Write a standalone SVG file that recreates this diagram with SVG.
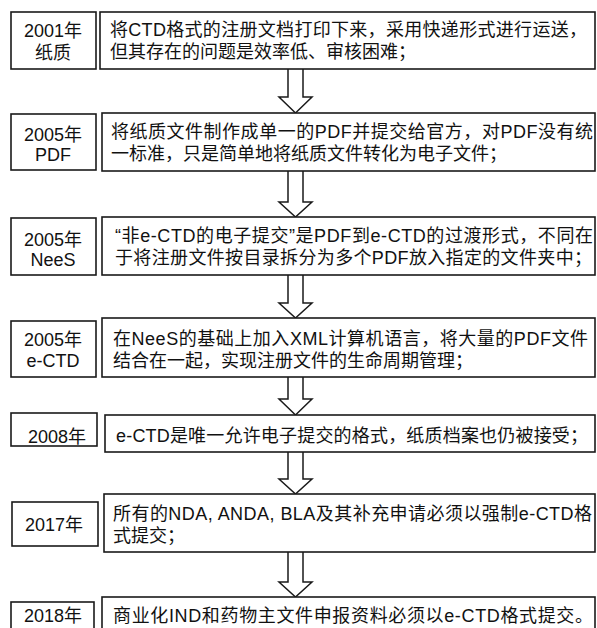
<svg xmlns="http://www.w3.org/2000/svg" width="597" height="628" viewBox="0 0 597 628">
<style>
.bx{fill:#fff;stroke:#1a1a1a;stroke-width:1.6}
.ar{fill:#fff;stroke:#1a1a1a;stroke-width:1.5;stroke-linejoin:miter}
.lb{font-family:"Liberation Sans","Noto Sans CJK SC",sans-serif;font-size:18px;fill:#111;text-anchor:middle}
.tx{font-family:"Liberation Sans","Noto Sans CJK SC",sans-serif;font-size:18px;fill:#111}
</style>
<rect width="597" height="628" fill="#fff"/>
<g id="connectors">
<path class="ar" d="M288,69 V97 H279 L295.5,113 L312,97 H303 V69"/>
<path class="ar" d="M288,171 V202 H279 L295.5,217 L312,202 H303 V171"/>
<path class="ar" d="M288,275 V303 H279 L295.5,318 L312,303 H303 V275"/>
<path class="ar" d="M288,377 V399 H279 L295.5,415 L312,399 H303 V377"/>
<path class="ar" d="M288,452 V479 H279 L295.5,494 L312,479 H303 V452"/>
<path class="ar" d="M288,552 V582 H279 L295.5,597 L312,582 H303 V552"/>
</g>
<g id="n2001">
<rect class="bx" x="11" y="12" width="85" height="57"/>
<text class="lb" x="53" y="37">2001年</text>
<text class="lb" x="53" y="59">纸质</text>
<rect class="bx" x="100" y="12" width="495" height="57"/>
<text class="tx" x="110" y="36" textLength="477" lengthAdjust="spacing">将CTD格式的注册文档打印下来，采用快递形式进行运送，</text>
<text class="tx" x="110" y="58">但其存在的问题是效率低、审核困难；</text>
</g>
<g id="n2005pdf">
<rect class="bx" x="11" y="114" width="85" height="56"/>
<text class="lb" x="53" y="141">2005年</text>
<text class="lb" x="53" y="161">PDF</text>
<rect class="bx" x="102" y="113" width="493" height="58"/>
<text class="tx" x="111" y="138" textLength="482" lengthAdjust="spacing">将纸质文件制作成单一的PDF并提交给官方，对PDF没有统</text>
<text class="tx" x="111" y="160">一标准，只是简单地将纸质文件转化为电子文件；</text>
</g>
<g id="n2005nees">
<rect class="bx" x="11" y="218" width="85" height="57"/>
<text class="lb" x="53" y="246">2005年</text>
<text class="lb" x="53" y="266">NeeS</text>
<rect class="bx" x="102" y="217" width="493" height="58"/>
<text class="tx" x="115" y="242" textLength="478" lengthAdjust="spacing">“非e-CTD的电子提交”是PDF到e-CTD的过渡形式，不同在</text>
<text class="tx" x="115" y="264" textLength="477" lengthAdjust="spacing">于将注册文件按目录拆分为多个PDF放入指定的文件夹中；</text>
</g>
<g id="n2005ectd">
<rect class="bx" x="11" y="321" width="85" height="56"/>
<text class="lb" x="53" y="346">2005年</text>
<text class="lb" x="53" y="367">e-CTD</text>
<rect class="bx" x="102" y="318" width="493" height="59"/>
<text class="tx" x="113" y="345" textLength="475" lengthAdjust="spacing">在NeeS的基础上加入XML计算机语言，将大量的PDF文件</text>
<text class="tx" x="113" y="367">结合在一起，实现注册文件的生命周期管理；</text>
</g>
<g id="n2008">
<rect class="bx" x="11" y="413" width="86" height="33"/>
<text class="lb" x="57" y="443">2008年</text>
<rect class="bx" x="105" y="415" width="490" height="37"/>
<text class="tx" x="116" y="442" textLength="472" lengthAdjust="spacing">e-CTD是唯一允许电子提交的格式，纸质档案也仍被接受；</text>
</g>
<g id="n2017">
<rect class="bx" x="12" y="502" width="86" height="44"/>
<text class="lb" x="54" y="531">2017年</text>
<rect class="bx" x="104" y="494" width="491" height="58"/>
<text class="tx" x="113" y="520" textLength="479" lengthAdjust="spacing">所有的NDA, ANDA, BLA及其补充申请必须以强制e-CTD格</text>
<text class="tx" x="113" y="542">式提交；</text>
</g>
<g id="n2018">
<rect class="bx" x="11" y="602" width="83" height="40"/>
<text class="lb" x="53" y="622">2018年</text>
<rect class="bx" x="102" y="597" width="493" height="45"/>
<text class="tx" x="113" y="622" textLength="480" lengthAdjust="spacing">商业化IND和药物主文件申报资料必须以e-CTD格式提交。</text>
</g>
</svg>
